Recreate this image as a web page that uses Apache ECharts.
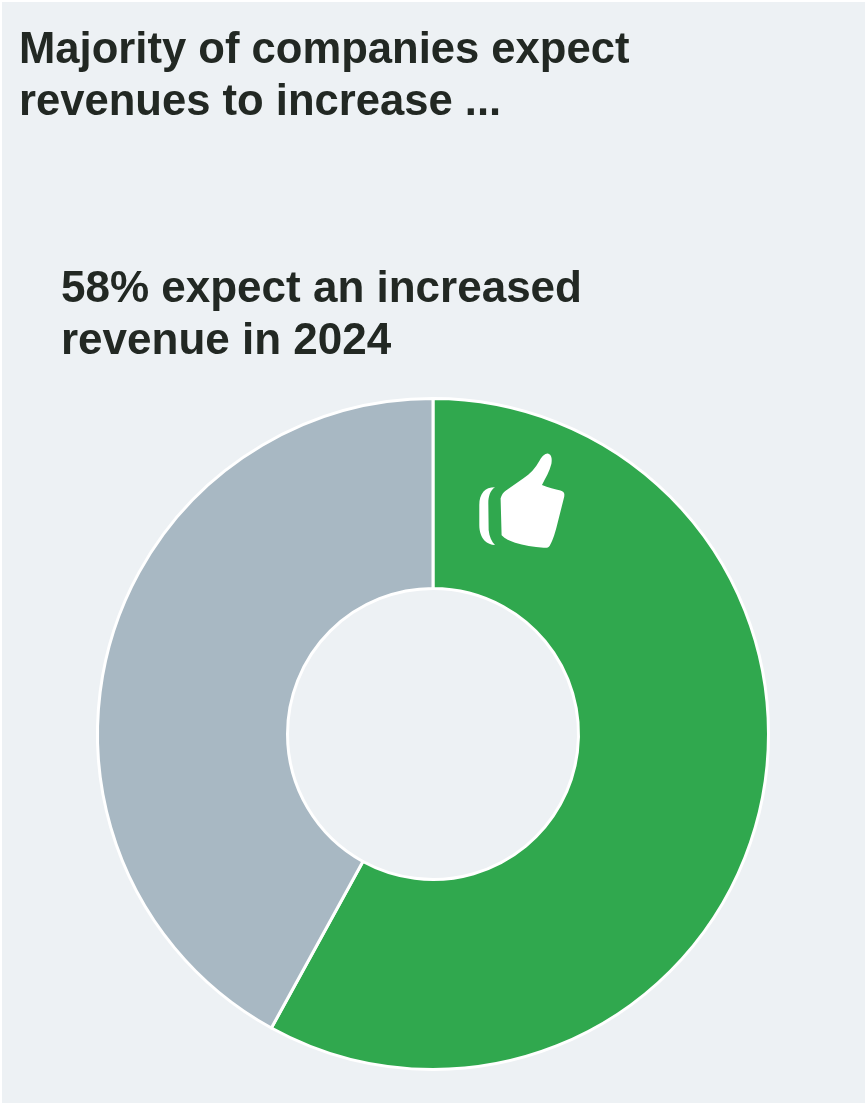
<!DOCTYPE html>
<html>
<head>
<meta charset="utf-8">
<style>
html,body{margin:0;padding:0;background:#fff}
#chart{width:865px;height:1103px}
</style>
<script src="https://cdn.jsdelivr.net/npm/echarts@6/dist/echarts.min.js"></script>
</head>
<body>
<div id="chart"></div>
<script>
// Revenue outlook shares for 2024
const categories = ['Expect increased revenue', 'Other'];
const shares = [58, 42];
const sliceColors = ['#30a84e', '#a8b8c3'];
const headline = 'Majority of companies expect\nrevenues to increase ...';
const subhead = '58% expect an increased\nrevenue in 2024';

// Thumbs-up icon outlines, drawn on top of the green slice
const thumbPath = 'M122 175 C125 165 130 158 138 152 L190 115 C210 102 225 85 238 62 C245 50 255 40 264 42 C272 44 276 55 273 72 C268 95 255 115 245 135 C262 143 285 147 300 152 C310 155 313 160 311 170 L288 262 C282 285 275 305 268 316 C264 322 258 323 250 322 C220 320 190 315 165 307 C150 302 135 296 125 285 Z';
const cuffPath = 'M105 142 C90 142 78 146 70 155 C62 165 58 178 58 195 L58 255 C58 275 64 292 74 302 C82 310 93 314 105 315 C95 305 88 290 86 270 L85 190 C85 170 90 152 105 142 Z';

const chart = echarts.init(document.getElementById('chart'), null, {renderer: 'canvas'});
const textBase = {
  fontFamily: '"Liberation Sans", Arial, sans-serif',
  fontWeight: 'bold',
  lineHeight: 52,
  color: '#222823'
};
chart.setOption({
  animation: false,
  backgroundColor: '#ffffff',
  title: [
    {text: headline, left: 19, top: 24.5, padding: 0, textStyle: {...textBase, fontSize: 43.6}},
    {text: subhead, left: 61, top: 263.5, padding: 0, textStyle: {...textBase, fontSize: 44}}
  ],
  graphic: [
    {type: 'rect', z: -1, silent: true, shape: {x: 2, y: 2, width: 863, height: 1101}, style: {fill: '#edf1f4'}}
  ],
  series: [{
    type: 'pie',
    center: [433, 734],
    radius: [145.5, 335.5],
    startAngle: 90,
    clockwise: true,
    silent: true,
    label: {show: false},
    labelLine: {show: false},
    itemStyle: {borderColor: '#ffffff', borderWidth: 3},
    data: categories.map((name, i) => ({name, value: shares[i], itemStyle: {color: sliceColors[i]}}))
  }, {
    type: 'custom',
    coordinateSystem: 'none',
    silent: true,
    z: 10,
    data: [0],
    renderItem: () => ({
      type: 'group',
      children: [
        {type: 'path', shape: {pathData: thumbPath, layout: 'cover', x: 500.6, y: 453.6, width: 63.8, height: 94.2}, style: {fill: '#ffffff'}},
        {type: 'path', shape: {pathData: cuffPath, layout: 'cover', x: 479.3, y: 487.3, width: 15.7, height: 57.7}, style: {fill: '#ffffff'}}
      ]
    })
  }]
});
</script>
</body>
</html>
